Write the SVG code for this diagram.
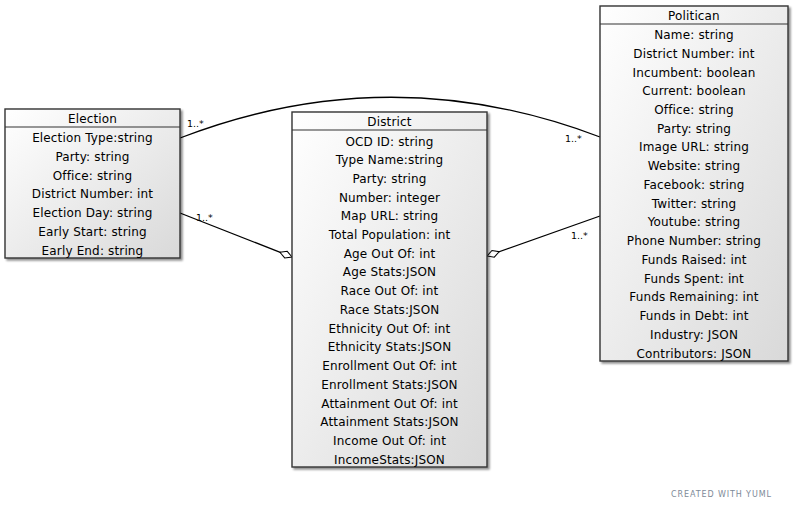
<svg xmlns="http://www.w3.org/2000/svg" width="793" height="511" viewBox="0 0 793 511">
  <defs>
    <linearGradient id="boxFill" x1="0" y1="0" x2="1" y2="1">
      <stop offset="0" stop-color="#ffffff"/>
      <stop offset="1" stop-color="#d9d9d9"/>
    </linearGradient>
    <filter id="shadow" x="-5%" y="-5%" width="115%" height="115%">
      <feGaussianBlur in="SourceAlpha" stdDeviation="1.2"/>
      <feOffset dx="2" dy="2" result="b"/>
      <feComponentTransfer><feFuncA type="linear" slope="0.45"/></feComponentTransfer>
      <feMerge><feMergeNode/><feMergeNode in="SourceGraphic"/></feMerge>
    </filter>
    <marker id="diamond" viewBox="0 0 14 9" refX="13.5" refY="4.5" markerWidth="14" markerHeight="9" markerUnits="userSpaceOnUse" orient="auto">
      <path d="M0.5,4.5 L7,1 L13.5,4.5 L7,8 Z" fill="#ffffff" stroke="#000000" stroke-width="1"/>
    </marker>
  </defs>
  <style>
    .box { fill: url(#boxFill); stroke: #333333; stroke-width: 1.4; filter: url(#shadow); }
    .sep { stroke: #333333; stroke-width: 1.2; }
    .t { font-family: "DejaVu Sans", Verdana, sans-serif; font-size: 12px; letter-spacing: 0.15px; fill: #000000; text-anchor: middle; }
    .edge { fill: none; stroke: #000000; stroke-width: 1.3; }
    .lbl { font-family: "DejaVu Sans", Verdana, sans-serif; font-size: 9.5px; fill: #000000; }
    .credit { font-family: "DejaVu Sans", Verdana, sans-serif; font-size: 8px; fill: #7d8a98; letter-spacing: 0.9px; }
  </style>

  <rect width="793" height="511" fill="#ffffff"/>

  <!-- connectors -->
  <g id="connectors">
    <path class="edge" d="M180,138 Q390,57 600,137"/>
    <text class="lbl" x="187" y="127">1..*</text>
    <text class="lbl" x="565" y="142">1..*</text>

    <path class="edge" d="M180,213 L292,257" marker-end="url(#diamond)"/>
    <text class="lbl" x="196" y="221">1..*</text>

    <path class="edge" d="M600,216 L487,256" marker-end="url(#diamond)"/>
    <text class="lbl" x="571" y="239">1..*</text>
  </g>

  <!-- Election -->
  <g id="election">
    <rect class="box" x="5" y="109" width="175" height="149"/>
    <line class="sep" x1="5" y1="127" x2="180" y2="127"/>
    <text class="t" x="92.5" y="122.5">Election</text>
    <text class="t" x="92.5" y="141.5">Election Type:string</text>
    <text class="t" x="92.5" y="160.5">Party: string</text>
    <text class="t" x="92.5" y="179.5">Office: string</text>
    <text class="t" x="92.5" y="197.5">District Number: int</text>
    <text class="t" x="92.5" y="216.5">Election Day: string</text>
    <text class="t" x="92.5" y="235.5">Early Start: string</text>
    <text class="t" x="92.5" y="254.5">Early End: string</text>
  </g>

  <!-- District -->
  <g id="district">
    <rect class="box" x="292" y="112" width="195" height="355"/>
    <line class="sep" x1="292" y1="130" x2="487" y2="130"/>
    <text class="t" x="389.5" y="125.5">District</text>
    <text class="t" x="389.5" y="145.5">OCD ID: string</text>
    <text class="t" x="389.5" y="163.5">Type Name:string</text>
    <text class="t" x="389.5" y="182.5">Party: string</text>
    <text class="t" x="389.5" y="201.5">Number: integer</text>
    <text class="t" x="389.5" y="219.5">Map URL: string</text>
    <text class="t" x="389.5" y="238.5">Total Population: int</text>
    <text class="t" x="389.5" y="257.5">Age Out Of: int</text>
    <text class="t" x="389.5" y="275.5">Age Stats:JSON</text>
    <text class="t" x="389.5" y="294.5">Race Out Of: int</text>
    <text class="t" x="389.5" y="313.5">Race Stats:JSON</text>
    <text class="t" x="389.5" y="332.5">Ethnicity Out Of: int</text>
    <text class="t" x="389.5" y="350.5">Ethnicity Stats:JSON</text>
    <text class="t" x="389.5" y="369.5">Enrollment Out Of: int</text>
    <text class="t" x="389.5" y="388.5">Enrollment Stats:JSON</text>
    <text class="t" x="389.5" y="407.5">Attainment Out Of: int</text>
    <text class="t" x="389.5" y="425.5">Attainment Stats:JSON</text>
    <text class="t" x="389.5" y="444.5">Income Out Of: int</text>
    <text class="t" x="389.5" y="463.5">IncomeStats:JSON</text>
  </g>

  <!-- Politican -->
  <g id="politican">
    <rect class="box" x="600" y="6" width="188" height="355"/>
    <line class="sep" x1="600" y1="24" x2="788" y2="24"/>
    <text class="t" x="694" y="19.5">Politican</text>
    <text class="t" x="694" y="38.5">Name: string</text>
    <text class="t" x="694" y="57.5">District Number: int</text>
    <text class="t" x="694" y="76.5">Incumbent: boolean</text>
    <text class="t" x="694" y="94.5">Current: boolean</text>
    <text class="t" x="694" y="113.5">Office: string</text>
    <text class="t" x="694" y="132.5">Party: string</text>
    <text class="t" x="694" y="150.5">Image URL: string</text>
    <text class="t" x="694" y="169.5">Website: string</text>
    <text class="t" x="694" y="188.5">Facebook: string</text>
    <text class="t" x="694" y="207.5">Twitter: string</text>
    <text class="t" x="694" y="225.5">Youtube: string</text>
    <text class="t" x="694" y="244.5">Phone Number: string</text>
    <text class="t" x="694" y="263.5">Funds Raised: int</text>
    <text class="t" x="694" y="282.5">Funds Spent: int</text>
    <text class="t" x="694" y="300.5">Funds Remaining: int</text>
    <text class="t" x="694" y="319.5">Funds in Debt: int</text>
    <text class="t" x="694" y="338.5">Industry: JSON</text>
    <text class="t" x="694" y="357.5">Contributors: JSON</text>
  </g>

  <text class="credit" x="671" y="497">CREATED WITH YUML</text>
</svg>
